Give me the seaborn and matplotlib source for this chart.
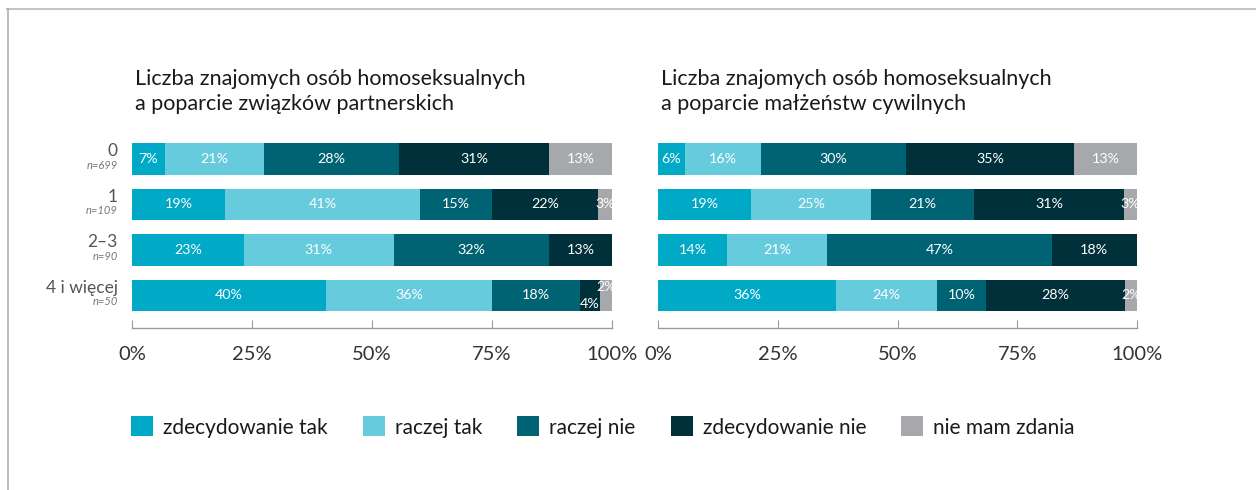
import numpy as np
import pandas as pd
import matplotlib
matplotlib.use("Agg")
import matplotlib.pyplot as plt
import matplotlib.transforms as mtransforms
from matplotlib.patches import Patch
from matplotlib.lines import Line2D
import seaborn as sns

# --- data ---
groups = ["0", "1", "2–3", "4 i więcej"]
group_n = ["n=699", "n=109", "n=90", "n=50"]
answers = ["zdecydowanie tak", "raczej tak", "raczej nie", "zdecydowanie nie", "nie mam zdania"]
colors = ["#00a9c6", "#66cbdd", "#006373", "#00313a", "#a7a8ac"]

titles = [
    "Liczba znajomych osób homoseksualnych\na poparcie związków partnerskich",
    "Liczba znajomych osób homoseksualnych\na poparcie małżeństw cywilnych",
]

# share of answers per group (rows = groups, cols = answers), in %
partnership = [
    [6.9, 20.7, 28.0, 31.3, 13.1],
    [19.3, 40.8, 14.8, 22.2, 2.9],
    [23.3, 31.2, 32.4, 13.1, 0.0],
    [40.4, 34.6, 18.4, 4.1, 2.5],
]
marriage = [
    [5.6, 16.0, 30.1, 35.2, 13.1],
    [19.4, 25.1, 21.5, 31.3, 2.7],
    [14.4, 20.9, 46.9, 17.8, 0.0],
    [37.2, 21.1, 10.2, 29.0, 2.5],
]
label_values = [
    [[7, 21, 28, 31, 13], [19, 41, 15, 22, 3], [23, 31, 32, 13, 0], [40, 36, 18, 4, 2]],
    [[6, 16, 30, 35, 13], [19, 25, 21, 31, 3], [14, 21, 47, 18, 0], [36, 24, 10, 28, 2]],
]
ticks = [0, 25, 50, 75, 100]

plt.rcParams["font.family"] = ["Lato", "DejaVu Sans"]

fig = plt.figure(figsize=(12.56, 4.9), dpi=100)
W, H = 1256, 490

axes = [
    fig.add_axes([132 / W, 1 - 328 / H, 480 / W, 185 / H]),
    fig.add_axes([658 / W, 1 - 328 / H, 479 / W, 185 / H]),
]

for p, (ax, data) in enumerate(zip(axes, [partnership, marriage])):
    df = pd.DataFrame(data, columns=answers)
    df["group"] = groups
    cum = df[answers].cumsum(axis=1)
    # stacked bars: draw cumulative totals from the last answer to the first
    for k in range(len(answers) - 1, -1, -1):
        sns.barplot(x=cum[answers[k]], y=df["group"], color=colors[k],
                    orient="h", width=0.7, saturation=1, ax=ax)
    # percentage labels
    for i in range(len(groups)):
        start = 0
        row = data[i]
        for k, v in enumerate(row):
            if v <= 0:
                continue
            xc = start + v / 2
            yc = i
            if k >= 3 and row[3] < 5 and row[4] < 5:
                yc = i + (0.18 if k == 3 else -0.18)
            ax.text(xc, yc, f"{label_values[p][i][k]}%", ha="center", va="center",
                    color="white", fontsize=10.3)
            start += v

    ax.set_xlim(0, 100)
    ax.set_ylim(3.714, -0.35)
    ax.set_xticks(ticks)
    ax.set_xticklabels([f"{t}%" for t in ticks])
    ax.set_xlabel("")
    ax.set_ylabel("")
    ax.set_yticks([])
    for s in ["top", "right", "left"]:
        ax.spines[s].set_visible(False)
    ax.spines["bottom"].set_color("#9a9a9a")
    ax.spines["bottom"].set_linewidth(1)
    ax.tick_params(axis="x", direction="in", length=6, color="#9a9a9a",
                   labelsize=14.5, labelcolor="#333333", pad=13)
    ax.set_facecolor("none")
    ax.text(0.006, 1.0 + 74 / 185, titles[p], transform=ax.transAxes,
            ha="left", va="top", fontsize=15.5, color="#1a1a1a", linespacing=1.3)

# group labels on the left panel
trans = mtransforms.blended_transform_factory(
    axes[0].transAxes + mtransforms.ScaledTranslation(-14 / 100, 0, fig.dpi_scale_trans),
    axes[0].transData)
for i, (g, n) in enumerate(zip(groups, group_n)):
    axes[0].text(0, i - 0.17, g, transform=trans, ha="right", va="center",
                 fontsize=12.5, color="#555555")
    axes[0].text(0, i + 0.14, n, transform=trans, ha="right", va="center",
                 fontsize=8, color="#777777", style="italic")

# legend
handles = [Patch(facecolor=c, edgecolor="none") for c in colors]
fig.legend(handles, answers, loc="center left", bbox_to_anchor=(131 / W, 1 - 427 / H),
           ncol=5, frameon=False, fontsize=15, handlelength=1.06, handleheight=1.1,
           handletextpad=0.48, columnspacing=1.68, borderpad=0, borderaxespad=0,
           labelcolor="#1a1a1a")

# frame lines
fig.add_artist(Line2D([7 / W, 1], [1 - 9.5 / H, 1 - 9.5 / H], color="#c4c4c4", lw=1.5,
                      transform=fig.transFigure))
fig.add_artist(Line2D([7.5 / W, 7.5 / W], [0, 1 - 9.5 / H], color="#b0b0b0", lw=1.2,
                      transform=fig.transFigure))

fig.savefig("out.png", dpi=100, facecolor="white")
